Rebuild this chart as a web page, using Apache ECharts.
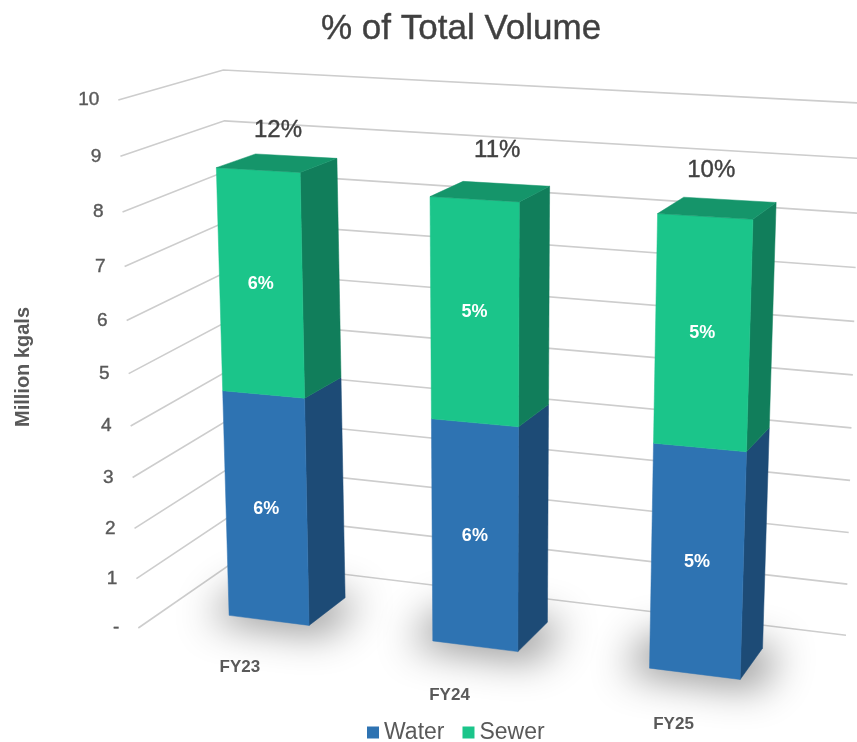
<!DOCTYPE html>
<html>
<head>
<meta charset="utf-8">
<style>html,body{margin:0;padding:0;background:#fff}#c{width:857px;height:742px}</style>
<script src="https://cdn.jsdelivr.net/npm/echarts@6/dist/echarts.min.js"></script>
</head>
<body>
<div id="c"></div>
<script>
// ---- data ----
const categories = ['FY23', 'FY24', 'FY25'];
const water = [4.48, 4.31, 4.24];
const sewer = [4.24, 4.11, 4.12];
const waterPct = ['6%', '6%', '5%'];
const sewerPct = ['6%', '5%', '5%'];
const totalPct = ['12%', '11%', '10%'];
const yTicks = [0, 1, 2, 3, 4, 5, 6, 7, 8, 9, 10];
const yTickLabels = ['-', '1', '2', '3', '4', '5', '6', '7', '8', '9', '10'];

// ---- camera calibration: (position along axis, value) -> screen ----
const W = 857, H = 742, halfBar = 0.2;
function fitPlane(pairs) {
  const n = 8, M = Array.from({length: n}, () => new Array(n + 1).fill(0));
  const add = r => { for (let a = 0; a < n; a++) { for (let b = 0; b <= n; b++) M[a][b] += r[a] * r[b]; } };
  pairs.forEach(([[x, y], [X0, Y0]]) => {
    const X = X0 / 1000, Y = Y0 / 1000;
    add([x, y, 1, 0, 0, 0, -x * X, -y * X, X]);
    add([0, 0, 0, x, y, 1, -x * Y, -y * Y, Y]);
  });
  for (let c = 0; c < n; c++) {
    let p = c;
    for (let r = c + 1; r < n; r++) if (Math.abs(M[r][c]) > Math.abs(M[p][c])) p = r;
    [M[c], M[p]] = [M[p], M[c]];
    for (let r = 0; r < n; r++) {
      if (r === c) continue;
      const f = M[r][c] / M[c][c];
      for (let k = c; k <= n; k++) M[r][k] -= f * M[c][k];
    }
  }
  const h = M.map((r, i) => r[n] / r[i]);
  return (x, y) => {
    const w = h[6] * x + h[7] * y + 1;
    return [1000 * (h[0] * x + h[1] * y + h[2]) / w, 1000 * (h[3] * x + h[4] * y + h[5]) / w];
  };
}
const frontPlane = fitPlane([
  [[.3, 0], [229, 615]], [[.3, 4.45], [222, 391]], [[.3, 8.7], [216, 166.7]],
  [[.7, 0], [309.3, 624.7]], [[.7, 4.45], [305, 399]], [[.7, 8.7], [300.3, 172.3]],
  [[1.3, 0], [432.7, 641]], [[1.3, 4.35], [431.7, 419]], [[1.3, 8.5], [430.3, 196]],
  [[1.7, 0], [518.3, 651.7]], [[1.7, 4.35], [519, 427.7]], [[1.7, 8.5], [519.3, 202]],
  [[2.3, 0], [649.3, 668.7]], [[2.3, 4.2], [653.3, 443.3]], [[2.3, 8.3], [657.7, 214.3]],
  [[2.7, 0], [740, 680.3]], [[2.7, 4.2], [746, 452]], [[2.7, 8.3], [752.7, 220.7]]
]);
const backPlane = fitPlane([
  [[.7, 0], [344.3, 596.7]], [[.7, 4.45], [342, 379]], [[.7, 8.7], [337, 158]],
  [[1.7, 0], [547.7, 622.3]], [[1.7, 4.35], [548.7, 405]], [[1.7, 8.5], [550, 186]],
  [[2.7, 0], [762.7, 649]], [[2.7, 4.2], [769, 428]], [[2.7, 8.3], [776, 204]],
  [[.3, 8.7], [255, 152.7]], [[1.3, 8.5], [463.3, 180.7]], [[2.3, 8.3], [683, 198]]
]);
const wallPlane = fitPlane([
  [[0, 0], [235, 561]], [[1, 0], [846, 635.3]], [[0, 10], [223.3, 70]], [[1, 10], [860, 103]]
]);
const sidePlane = fitPlane([
  [[0, 0], [138.3, 628]], [[0, 10], [118.3, 100]], [[1, 0], [235, 561]], [[1, 10], [223.3, 70]]
]);
const totalNudge = [[1, -33], [7, -41], [-6, -38]];
const categoryNudge = [[-29, 47], [-25.5, 49], [-21, 51]];

const FONT = '"Liberation Sans", Arial, sans-serif';
const flatValue = (api, v) => (H - api.coord([0, v])[1]) / (H / 10);
const flatCentre = (api, i) => api.coord([i, 0])[0] / api.size([1, 0])[0];

function barFaces(api, i, base, top) {
  const c = flatCentre(api, i), l = c - halfBar, r = c + halfBar;
  const v0 = flatValue(api, base), v1 = flatValue(api, top);
  return {
    c, l, r, v0, v1,
    front: [frontPlane(l, v0), frontPlane(r, v0), frontPlane(r, v1), frontPlane(l, v1)],
    side: [frontPlane(r, v0), backPlane(r, v0), backPlane(r, v1), frontPlane(r, v1)],
    topFace: [frontPlane(l, v1), frontPlane(r, v1), backPlane(r, v1), backPlane(l, v1)]
  };
}
const poly = (points, fill) => ({type: 'polygon', shape: {points}, style: {fill, stroke: fill, lineWidth: .5}});
const label = (text, p, fontSize, fontWeight, fill, extra) => ({
  type: 'text',
  style: Object.assign({text, x: p[0], y: p[1], fontSize, fontWeight, fill, fontFamily: FONT,
    align: 'center', verticalAlign: 'middle'}, extra || {})
});

function stackSeries(name, rows, pct, frontCol, sideCol, topCol, isTop) {
  return {
    name, type: 'custom', coordinateSystem: 'cartesian2d', z: 5,
    encode: {x: 0, y: [1, 2]}, data: rows,
    itemStyle: {color: frontCol},
    renderItem(params, api) {
      const i = params.dataIndex, f = barFaces(api, i, api.value(1), api.value(2));
      const kids = [poly(f.side, sideCol), poly(f.front, frontCol)];
      if (isTop) kids.push(poly(f.topFace, topCol));
      kids.push(label(pct[i], frontPlane(f.c, (f.v0 + f.v1) / 2), 18, 'bold', '#ffffff'));
      if (isTop) {
        const a = frontPlane(f.c, f.v1), b = backPlane(f.c, f.v1);
        kids.push(label(totalPct[i], [(a[0] + b[0]) / 2 + totalNudge[i][0], (a[1] + b[1]) / 2 + totalNudge[i][1]],
          24, 'normal', '#404040', {stroke: '#404040', lineWidth: .4}));
      }
      return {type: 'group', children: kids};
    }
  };
}

const waterRows = categories.map((c, i) => [c, 0, water[i]]);
const sewerRows = categories.map((c, i) => [c, water[i], water[i] + sewer[i]]);

const option = {
  animation: false,
  backgroundColor: '#ffffff',
  title: {
    text: '% of Total Volume', left: 316, top: 7,
    textStyle: {fontSize: 35, fontWeight: 'normal', color: '#404040', fontFamily: FONT,
      textBorderColor: '#404040', textBorderWidth: .4}
  },
  legend: {
    left: 362, top: 716, itemWidth: 12, itemHeight: 12, itemGap: 18, icon: 'rect', selectedMode: false,
    data: ['Water', 'Sewer'],
    textStyle: {fontSize: 23, color: '#595959', fontFamily: FONT}
  },
  grid: {left: 0, top: 0, width: W, height: H},
  xAxis: {type: 'category', data: categories, show: false},
  yAxis: {type: 'value', min: 0, max: 10, interval: 1, show: false},
  graphic: [{
    type: 'text', x: 23, y: 367, rotation: Math.PI / 2, z: 10,
    style: {text: 'Million kgals', fontSize: 20, fontWeight: 'bold', fill: '#595959', fontFamily: FONT,
      align: 'center', verticalAlign: 'middle'}
  }],
  series: [
    {
      name: 'gridlines', type: 'custom', z: 1, silent: true,
      encode: {x: 0, y: 1}, data: yTicks.map(t => [categories[0], t]),
      renderItem(params, api) {
        const v = flatValue(api, api.value(1));
        const a = sidePlane(0, v), b = wallPlane(0, v), c = wallPlane(1, v);
        return {type: 'group', children: [
          {type: 'polyline', shape: {points: [a, b, c]}, style: {stroke: '#cdcdcd', lineWidth: 1.6, fill: 'none'}},
          label(yTickLabels[params.dataIndex], [a[0] - 19, a[1]], 19, 'normal', '#595959',
            {align: 'right', stroke: '#595959', lineWidth: .4})
        ]};
      }
    },
    {
      name: 'shadows', type: 'custom', z: 2, silent: true,
      encode: {x: 0, y: 1}, data: categories.map(c => [c, 0]),
      renderItem(params, api) {
        const i = params.dataIndex, f = flatCentre(api, i), l = f - halfBar * 1.55, r = f + halfBar * 1.4;
        const pts = [frontPlane(l, -0.12), frontPlane(r, -0.12), backPlane(r, 0), backPlane(l, 0)];
        const shift = 3000;
        return {type: 'polygon', shape: {points: pts.map(p => [p[0] - shift, p[1]])}, style: {
          fill: '#000', shadowBlur: 40, shadowColor: 'rgba(0,0,0,.45)', shadowOffsetX: shift
        }};
      }
    },
    {
      name: 'categoryLabels', type: 'custom', z: 6, silent: true,
      encode: {x: 0, y: 1}, data: categories.map(c => [c, 0]),
      renderItem(params, api) {
        const i = params.dataIndex, p = frontPlane(flatCentre(api, i), 0);
        return label(categories[i], [p[0] + categoryNudge[i][0], p[1] + categoryNudge[i][1]], 17, 'bold', '#595959');
      }
    },
    stackSeries('Water', waterRows, waterPct, '#2e73b2', '#1d4b76', '#2e73b2', false),
    stackSeries('Sewer', sewerRows, sewerPct, '#1bc58a', '#117e5b', '#15956a', true)
  ]
};
const chart = echarts.init(document.getElementById('c'), null, {width: W, height: H});
chart.setOption(option);
</script>
</body>
</html>
